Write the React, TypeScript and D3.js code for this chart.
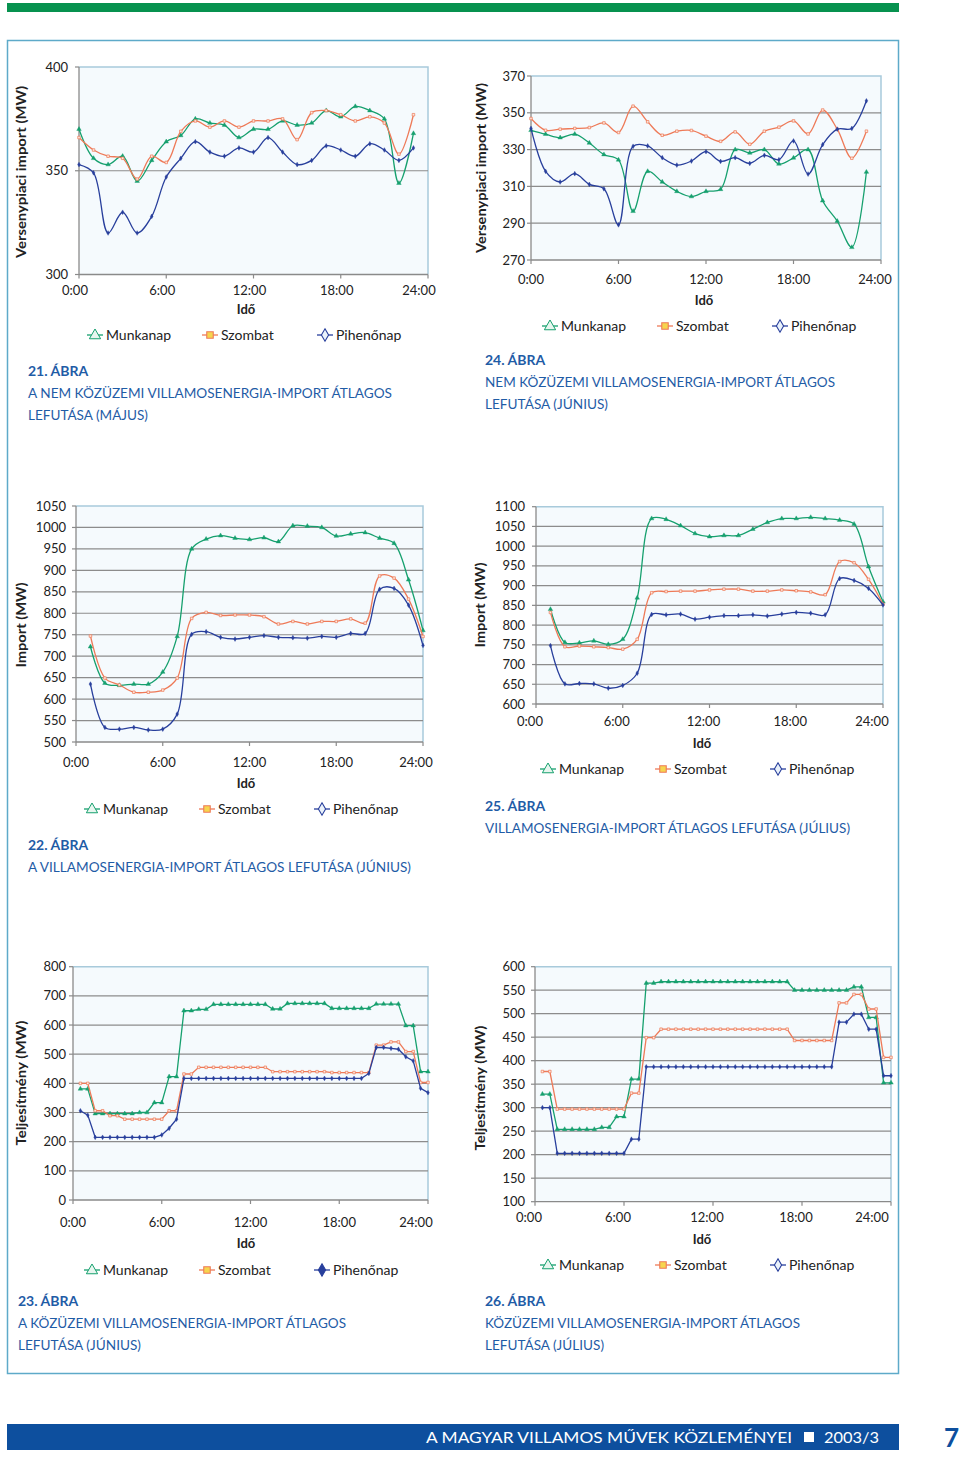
import React from 'react';
import * as d3 from 'd3';

const FONT = "Lato, 'Open Sans', 'DejaVu Sans', sans-serif";
const C_GREEN = '#16a06e';
const C_ORANGE = '#ee7a58';
const C_BLUE = '#283f9c';
const C_CAPTION = '#1f5ca6';

const SERIES_NAMES = ['Munkanap', 'Szombat', 'Pihenőnap'];
const X_TICKS = [0, 6, 12, 18, 24];
const X_TICK_LABELS = ['0:00', '6:00', '12:00', '18:00', '24:00'];

// hourly categories
const HOURS_0_23 = [0, 1, 2, 3, 4, 5, 6, 7, 8, 9, 10, 11, 12, 13, 14, 15, 16, 17, 18, 19, 20, 21, 22, 23];
const HOURS_1_24 = [1, 2, 3, 4, 5, 6, 7, 8, 9, 10, 11, 12, 13, 14, 15, 16, 17, 18, 19, 20, 21, 22, 23, 24];
const HALF_HOURS = [0.5, 1, 1.5, 2, 2.5, 3, 3.5, 4, 4.5, 5, 5.5, 6, 6.5, 7, 7.5, 8, 8.5, 9, 9.5, 10, 10.5, 11, 11.5, 12,
  12.5, 13, 13.5, 14, 14.5, 15, 15.5, 16, 16.5, 17, 17.5, 18, 18.5, 19, 19.5, 20, 20.5, 21, 21.5, 22, 22.5, 23, 23.5, 24];

// 21. ábra (május) – versenypiaci import
const C21_MUNKANAP = [370, 356, 353, 357, 345, 355, 364, 367, 375, 373, 372, 366, 370, 370, 374, 372, 373, 379, 376, 381, 379, 375, 344, 368];
const C21_SZOMBAT = [366, 360, 357, 356, 346, 357, 354, 369, 374, 371, 374, 371, 374, 374, 375, 365, 378, 379, 377, 374, 376, 373, 358, 377];
const C21_PIHENONAP = [353, 349, 320, 330, 320, 328, 347, 356, 364, 359, 357, 361, 359, 366, 359, 353, 355, 362, 360, 357, 363, 360, 355, 361];
const C21_YTICKS = [300, 350, 400];

// 24. ábra (június) – versenypiaci import
const C24_MUNKANAP = [340.5, 338.4, 336.5, 338.4, 333.6, 327.3, 324.4, 296.5, 318.2, 312.4, 307.3, 304.5, 307.3, 308.4, 330.0, 328.2, 330.0, 322.2, 325.5, 330.0, 302.2, 291.1, 276.9, 317.8];
const C24_SZOMBAT = [346.9, 340.5, 341.1, 341.5, 342.0, 344.5, 339.3, 353.6, 345.1, 337.8, 340.0, 340.4, 337.3, 334.5, 339.6, 332.9, 340.0, 342.2, 345.6, 338.5, 351.5, 341.1, 325.3, 340.0];
const C24_PIHENONAP = [341.5, 318.2, 312.4, 316.9, 311.1, 308.7, 289.1, 331.8, 332.0, 325.6, 321.6, 323.8, 328.9, 323.6, 325.6, 322.5, 326.9, 324.5, 334.7, 316.7, 332.7, 341.1, 341.5, 356.5];
const C24_YTICKS = [270, 290, 310, 330, 350, 370];

// 22. ábra (június) – villamosenergia-import
const C22_MUNKANAP = [722, 637, 632, 635, 635, 663, 746, 950, 973, 981, 975, 972, 976, 967, 1004, 1003, 1000, 980, 985, 988, 975, 963, 878, 760];
const C22_SZOMBAT = [747, 649, 633, 616, 616, 621, 649, 788, 802, 795, 796, 796, 792, 775, 781, 775, 781, 781, 787, 777, 887, 882, 833, 746];
const C22_PIHENONAP = [635, 534, 530, 534, 528, 530, 565, 751, 757, 744, 740, 744, 748, 744, 743, 742, 746, 744, 753, 753, 856, 858, 819, 725];
const C22_YTICKS = [500, 550, 600, 650, 700, 750, 800, 850, 900, 950, 1000, 1050];

// 25. ábra (július) – villamosenergia-import
const C25_MUNKANAP = [840, 756, 755, 760, 751, 764, 869, 1070, 1068, 1052, 1032, 1024, 1027, 1027, 1043, 1060, 1070, 1070, 1073, 1070, 1066, 1056, 948, 859];
const C25_SZOMBAT = [832, 745, 747, 745, 743, 739, 764, 882, 885, 886, 886, 889, 891, 891, 886, 886, 889, 887, 884, 877, 961, 958, 916, 853];
const C25_PIHENONAP = [748, 651, 652, 651, 640, 647, 678, 827, 826, 828, 815, 820, 824, 824, 826, 823, 828, 832, 830, 826, 918, 913, 893, 851];
const C25_YTICKS = [600, 650, 700, 750, 800, 850, 900, 950, 1000, 1050, 1100];

// 23. ábra (június) – közüzemi import, félórás
const C23_MUNKANAP = [381, 381, 296, 296, 296, 296, 296, 296, 300, 300, 334, 334, 423, 423, 649, 649, 654, 654,
  671, 671, 671, 671, 671, 671, 671, 671, 655, 655, 674, 674, 674, 674, 674, 674,
  657, 657, 657, 657, 657, 657, 672, 672, 672, 672, 598, 598, 440, 440];
const C23_SZOMBAT = [400, 400, 306, 306, 289, 289, 277, 277, 277, 277, 277, 277, 306, 306, 432, 432,
  455, 455, 455, 455, 455, 455, 455, 455, 455, 455, 440, 440, 440, 440, 440, 440, 440, 440,
  437, 437, 437, 437, 437, 437, 531, 531, 542, 542, 509, 509, 403, 403];
const C23_PIHENONAP = [306, 291, 215, 215, 215, 215, 215, 215, 215, 215, 215, 223, 246, 277,
  417, 417, 417, 417, 417, 417, 417, 417, 417, 417, 417, 417, 417, 417, 417, 417, 417, 417, 417, 417, 417, 417, 417, 417, 417,
  434, 523, 523, 520, 517, 491, 477, 383, 368];
const C23_YTICKS = [0, 100, 200, 300, 400, 500, 600, 700, 800];

// 26. ábra (július) – közüzemi import, félórás
const C26_MUNKANAP = [329, 329, 254, 254, 254, 254, 254, 254, 258, 258, 281, 281, 361, 361, 565, 565,
  568, 568, 568, 568, 568, 568, 568, 568, 568, 568, 568, 568, 568, 568, 568, 568, 568, 568,
  550, 550, 550, 550, 550, 550, 550, 550, 557, 557, 492, 492, 353, 353];
const C26_SZOMBAT = [377, 377, 297, 297, 297, 297, 297, 297, 297, 297, 297, 297, 331, 331, 449, 449,
  467, 467, 467, 467, 467, 467, 467, 467, 467, 467, 467, 467, 467, 467, 467, 467, 467, 467,
  443, 443, 443, 443, 443, 443, 523, 523, 541, 541, 510, 510, 407, 407];
const C26_PIHENONAP = [300, 300, 203, 203, 203, 203, 203, 203, 203, 203, 203, 203, 233, 233,
  387, 387, 387, 387, 387, 387, 387, 387, 387, 387, 387, 387, 387, 387, 387, 387, 387, 387, 387, 387, 387, 387, 387, 387, 387, 387,
  482, 482, 499, 499, 467, 467, 368, 368];
const C26_YTICKS = [100, 150, 200, 250, 300, 350, 400, 450, 500, 550, 600];

type Cfg = {
  x0: number; x1: number; yTop: number; yBot: number;
  yTicks: number[]; xs: number[]; series: number[][]; smooth: boolean;
  yTitle: string; yTitleX: number; yTitleY: number; yTitleLen: number; labelGap: number;
  xLabelDy: number; xLabelDx: number; lastDx: number; idoY: number; idoX: number;
  legendX: number; legendY: number; legendFilledBlue?: boolean;
  capX: number; capY: number; capNum: string; capLines: [string, number][];
};

const COLORS = [C_GREEN, C_ORANGE, C_BLUE];

function Marker({ kind, x, y, legend, filledBlue }: { kind: number; x: number; y: number; legend?: boolean; filledBlue?: boolean }) {
  if (kind === 0) {
    const p = d3.symbol(d3.symbolTriangle, legend ? 55 : 9)();
    return <path d={p || ''} transform={`translate(${x},${y + (legend ? 0.5 : 0)})`} fill={legend ? '#e8f6ef' : C_GREEN} stroke={C_GREEN} strokeWidth={legend ? 1 : 0.4} />;
  }
  if (kind === 1) {
    const p = d3.symbol(d3.symbolSquare, legend ? 42 : 6.5)();
    return <path d={p || ''} transform={`translate(${x},${y})`} fill={legend ? '#f6d54e' : '#fde8de'} stroke={C_ORANGE} strokeWidth={legend ? 1.1 : 0.7} />;
  }
  const p = d3.symbol(d3.symbolDiamond, legend ? 45 : 6.5)();
  return <path d={p || ''} transform={`translate(${x},${y})`} fill={legend && !filledBlue ? '#eaf2fb' : C_BLUE} stroke={C_BLUE} strokeWidth={legend ? 1.1 : 0.4} />;
}

function Chart({ c }: { c: Cfg }) {
  const xScale = d3.scaleLinear().domain([0, 24]).range([c.x0, c.x1]);
  const yMin = c.yTicks[0];
  const yMax = c.yTicks[c.yTicks.length - 1];
  const yScale = d3.scaleLinear().domain([yMin, yMax]).range([c.yBot, c.yTop]);
  const line = d3.line<number>()
    .x((_, i) => xScale(c.xs[i]))
    .y((d) => yScale(d))
    .curve(c.smooth ? d3.curveCatmullRom.alpha(0.5) : d3.curveLinear);
  const gridTicks = c.yTicks.slice(1, -1);
  return (
    <g fontFamily={FONT}>
      <rect x={c.x0} y={c.yTop} width={c.x1 - c.x0} height={c.yBot - c.yTop} fill="#f5fafd" />
      <path d={`M${c.x0},${c.yTop}H${c.x1}V${c.yBot}`} fill="none" stroke="#a8cadb" strokeWidth={1.5} />
      {gridTicks.map((t) => (
        <line key={t} x1={c.x0} x2={c.x1} y1={yScale(t)} y2={yScale(t)} stroke="#8c8c8c" strokeWidth={1.2} />
      ))}
      <line x1={c.x0} x2={c.x0} y1={c.yTop} y2={c.yBot} stroke="#8a8a8a" strokeWidth={1.3} />
      <line x1={c.x0} x2={c.x1} y1={c.yBot} y2={c.yBot} stroke="#8a8a8a" strokeWidth={1.3} />
      {c.yTicks.map((t) => (
        <g key={t}>
          <line x1={c.x0 - 4} x2={c.x0} y1={yScale(t)} y2={yScale(t)} stroke="#8a8a8a" strokeWidth={1.2} />
          <text x={c.x0 - c.labelGap} y={yScale(t)} dy="0.35em" textAnchor="end" fontSize={13} fill="#222">{t}</text>
        </g>
      ))}
      {X_TICKS.map((t, i) => (
        <g key={t}>
          <line x1={xScale(t)} x2={xScale(t)} y1={c.yBot} y2={c.yBot + 4} stroke="#8a8a8a" strokeWidth={1.2} />
          <text x={xScale(t) + (i === X_TICKS.length - 1 ? c.lastDx : c.xLabelDx)} y={c.yBot + c.xLabelDy} dy="0.35em" textAnchor="middle" fontSize={13} fill="#222">{X_TICK_LABELS[i]}</text>
        </g>
      ))}
      <text x={c.idoX} y={c.idoY} dy="0.35em" textAnchor="middle" fontSize={13} fontWeight="bold" fill="#222">Idő</text>
      <text transform={`translate(${c.yTitleX},${c.yTitleY}) rotate(-90)`} dy="0.35em" textAnchor="middle" fontSize={13.5} fontWeight="bold" fill="#222" textLength={c.yTitleLen} lengthAdjust="spacingAndGlyphs">{c.yTitle}</text>
      {c.series.map((s, k) => (
        <g key={k}>
          <path d={line(s) || ''} fill="none" stroke={COLORS[k]} strokeWidth={1.3} />
          {s.map((v, i) => <Marker key={i} kind={k} x={xScale(c.xs[i])} y={yScale(v)} />)}
        </g>
      ))}
      {SERIES_NAMES.map((n, k) => {
        const mx = c.legendX + k * 115;
        return (
          <g key={n}>
            <line x1={mx - 8} x2={mx + 8} y1={c.legendY} y2={c.legendY} stroke={COLORS[k]} strokeWidth={1.3} />
            <Marker kind={k} x={mx} y={c.legendY} legend filledBlue={c.legendFilledBlue} />
            <text x={mx + 11} y={c.legendY} dy="0.35em" fontSize={14} fill="#222">{n}</text>
          </g>
        );
      })}
      <text x={c.capX} y={c.capY} dy="0.35em" fontSize={14} fontWeight="bold" fill={C_CAPTION}>{c.capNum}</text>
      {c.capLines.map(([t, w], i) => (
        <text key={i} x={c.capX} y={c.capY + 22 * (i + 1)} dy="0.35em" fontSize={14} fill={C_CAPTION} textLength={w} lengthAdjust="spacingAndGlyphs">{t}</text>
      ))}
    </g>
  );
}

const CHARTS: Cfg[] = [
  {
    x0: 79, x1: 428, yTop: 67, yBot: 274.5, yTicks: C21_YTICKS, xs: HOURS_0_23,
    series: [C21_MUNKANAP, C21_SZOMBAT, C21_PIHENONAP], smooth: true,
    yTitle: 'Versenypiaci import (MW)', yTitleX: 21, yTitleY: 172, yTitleLen: 172, labelGap: 11,
    xLabelDy: 16, xLabelDx: -4, lastDx: -9, idoX: 246, idoY: 309, legendX: 95, legendY: 335,
    capX: 28, capY: 371, capNum: '21. ÁBRA',
    capLines: [['A NEM KÖZÜZEMI VILLAMOSENERGIA-IMPORT ÁTLAGOS', 364], ['LEFUTÁSA (MÁJUS)', 120]],
  },
  {
    x0: 531, x1: 881, yTop: 76, yBot: 260, yTicks: C24_YTICKS, xs: HOURS_0_23,
    series: [C24_MUNKANAP, C24_SZOMBAT, C24_PIHENONAP], smooth: true,
    yTitle: 'Versenypiaci import (MW)', yTitleX: 481, yTitleY: 168, yTitleLen: 170, labelGap: 6,
    xLabelDy: 19, xLabelDx: 0, lastDx: -6, idoX: 704, idoY: 300, legendX: 550, legendY: 326,
    capX: 485, capY: 360, capNum: '24. ÁBRA',
    capLines: [['NEM KÖZÜZEMI VILLAMOSENERGIA-IMPORT ÁTLAGOS', 350], ['LEFUTÁSA (JÚNIUS)', 123]],
  },
  {
    x0: 76, x1: 423, yTop: 506, yBot: 742, yTicks: C22_YTICKS, xs: HOURS_1_24,
    series: [C22_MUNKANAP, C22_SZOMBAT, C22_PIHENONAP], smooth: true,
    yTitle: 'Import (MW)', yTitleX: 21, yTitleY: 625, yTitleLen: 85, labelGap: 10,
    xLabelDy: 20, xLabelDx: 0, lastDx: -7, idoX: 246, idoY: 783, legendX: 92, legendY: 809,
    capX: 28, capY: 845, capNum: '22. ÁBRA',
    capLines: [['A VILLAMOSENERGIA-IMPORT ÁTLAGOS LEFUTÁSA (JÚNIUS)', 383]],
  },
  {
    x0: 536, x1: 883, yTop: 506.7, yBot: 704, yTicks: C25_YTICKS, xs: HOURS_1_24,
    series: [C25_MUNKANAP, C25_SZOMBAT, C25_PIHENONAP], smooth: true,
    yTitle: 'Import (MW)', yTitleX: 480, yTitleY: 605, yTitleLen: 85, labelGap: 11,
    xLabelDy: 17, xLabelDx: -6, lastDx: -11, idoX: 702, idoY: 743, legendX: 548, legendY: 769,
    capX: 485, capY: 806, capNum: '25. ÁBRA',
    capLines: [['VILLAMOSENERGIA-IMPORT ÁTLAGOS LEFUTÁSA (JÚLIUS)', 365]],
  },
  {
    x0: 73, x1: 428, yTop: 966.7, yBot: 1200, yTicks: C23_YTICKS, xs: HALF_HOURS,
    series: [C23_MUNKANAP, C23_SZOMBAT, C23_PIHENONAP], smooth: false,
    yTitle: 'Teljesítmény (MW)', yTitleX: 21, yTitleY: 1083, yTitleLen: 125, labelGap: 7,
    xLabelDy: 22, xLabelDx: 0, lastDx: -12, idoX: 246, idoY: 1243, legendX: 92, legendY: 1270, legendFilledBlue: true,
    capX: 18, capY: 1301, capNum: '23. ÁBRA',
    capLines: [['A KÖZÜZEMI VILLAMOSENERGIA-IMPORT ÁTLAGOS', 328], ['LEFUTÁSA (JÚNIUS)', 123]],
  },
  {
    x0: 535, x1: 891, yTop: 966.7, yBot: 1201.7, yTicks: C26_YTICKS, xs: HALF_HOURS,
    series: [C26_MUNKANAP, C26_SZOMBAT, C26_PIHENONAP], smooth: false,
    yTitle: 'Teljesítmény (MW)', yTitleX: 480, yTitleY: 1088, yTitleLen: 125, labelGap: 10,
    xLabelDy: 16, xLabelDx: -6, lastDx: -19, idoX: 702, idoY: 1239, legendX: 548, legendY: 1265,
    capX: 485, capY: 1301, capNum: '26. ÁBRA',
    capLines: [['KÖZÜZEMI VILLAMOSENERGIA-IMPORT ÁTLAGOS', 315], ['LEFUTÁSA (JÚLIUS)', 119]],
  },
];

export default function App() {
  return (
    <svg width={960} height={1457} style={{ position: 'absolute', left: 0, top: 0, background: '#fff' }} fontFamily={FONT}>
      <rect x={0} y={0} width={960} height={1457} fill="#fff" />
      <rect x={7} y={3} width={892} height={9} fill="#07924f" />
      <rect x={7.5} y={40.5} width={891} height={1333} fill="none" stroke="#5eaac9" strokeWidth={1.5} />
      {CHARTS.map((c, i) => <Chart key={i} c={c} />)}
      <rect x={7} y={1424} width={892} height={26} fill="#0d4f9e" />
      <text x={426} y={1437} dy="0.35em" fontSize={16} fill="#fff" textLength={366} lengthAdjust="spacingAndGlyphs">A MAGYAR VILLAMOS MŰVEK KÖZLEMÉNYEI</text>
      <rect x={804} y={1432} width={10} height={10} fill="#fff" />
      <text x={824} y={1437} dy="0.35em" fontSize={16} fill="#fff" textLength={55} lengthAdjust="spacingAndGlyphs">2003/3</text>
      <text x={944} y={1438} dy="0.35em" fontSize={26} fontWeight="bold" fill="#0d4f9e">7</text>
    </svg>
  );
}
